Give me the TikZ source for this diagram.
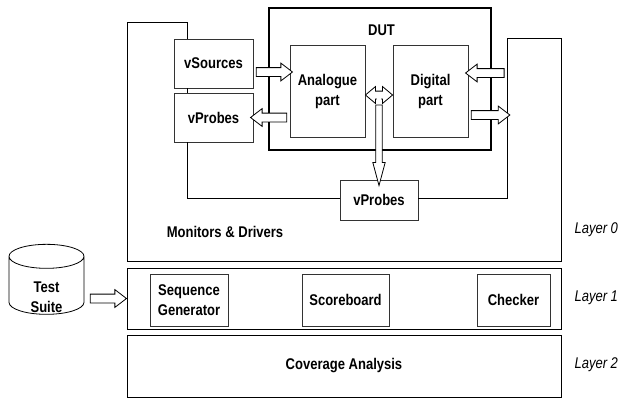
\documentclass[tikz,border=0pt]{standalone}
\usepackage{fontspec}
\setmainfont{Liberation Sans}[FakeStretch=0.84]
\usepackage{tikz}
\usetikzlibrary{arrows.meta,shapes.geometric,shapes.arrows,calc}

% block arrow between two points: \blockarrow[style]{(from)}{(to)}
\newcommand\blockarrow[3][barrow]{%
    \path let \p1=($#3-#2$), \n1={veclen(\x1,\y1)} in
        #2 -- #3 node[midway, sloped, allow upside down, #1, minimum height=\n1] {};
}

\begin{document}
\begin{tikzpicture}[
    x=1pt, y=-1pt,
    font=\fontsize{15.5}{20}\selectfont\bfseries,
    block/.style={
        rectangle,
        draw=black!80,
        line width=0.8pt,
        inner sep=0pt,
        align=center,
        minimum width=#1
    },
    layer/.style={
        rectangle,
        draw=black,
        line width=0.8pt,
        minimum width=434pt
    },
    layer label/.style={
        anchor=west,
        font=\fontsize{15.5}{20}\selectfont\itshape
    },
    barrow/.style={
        single arrow,
        draw,
        fill=white,
        line width=0.8pt,
        inner sep=4pt,
        single arrow head extend=4.5pt,
        single arrow tip angle=75
    },
    barrow thin/.style={
        barrow,
        inner sep=2.8pt,
        single arrow head extend=3pt,
        single arrow tip angle=30
    },
    barrow both/.style={
        double arrow,
        draw,
        fill=white,
        line width=0.8pt,
        inner sep=3.5pt,
        double arrow head extend=4.5pt,
        double arrow tip angle=80
    }
]
\useasboundingbox (0,0) rectangle (618,399);

% DUT with its two parts
\node[block=222pt, draw=black, line width=2.4pt, minimum height=142pt] (dut) at (380,79) {};
\node (dutlbl) at (381.5,30) {DUT};
\node[block=75pt, minimum height=92pt] (ana) at (327.5,91) {Analogue\\part};
\node[block=75pt, minimum height=92pt] (dig) at (430.5,91) {Digital\\part};

% virtual sources and probes
\node[block=79pt, minimum height=49pt] (vsrc)  at (213.5,63.5) {vSources};
\node[block=79pt, minimum height=49pt] (vprb)  at (213.5,117.5) {vProbes};
\node[block=78pt, minimum height=40pt] (vprb2) at (379,200) {vProbes};

% Layer 0 outline
\coordinate (ltop) at (187,22);
\coordinate (rtop) at (507,38);
\coordinate (l0sw) at (127,261);
\coordinate (l0se) at (561,261);
\draw[line width=0.8pt] (l0sw) -- (l0sw |- ltop) -- (ltop) -- (ltop |- vsrc.north);
\draw[line width=0.8pt] (ltop |- vsrc.south) -- (ltop |- vprb.north);
\draw[line width=0.8pt] (ltop |- vprb.south) |- ([yshift=2pt]vprb2.west);
\draw[line width=0.8pt] ([yshift=2pt]vprb2.east) -| (rtop) -| (l0se) -- (l0sw);
\node (mondrv) at (225,232) {Monitors \& Drivers};

% Layer 1 and Layer 2
\node[layer, minimum height=61pt] (layer1) at (344,298.5) {};
\node[layer, minimum height=62pt] (layer2) at (344,366) {Coverage Analysis};
\node[block=78pt, minimum height=52pt] (seqgen)  at (189,300) {Sequence\\Generator};
\node[block=87pt, minimum height=52pt] (score)   at (345.5,300) {Scoreboard};
\node[block=73pt, minimum height=52pt] (checker) at (513.5,300) {Checker};

\node[layer label] (lay0) at (571,230) {Layer 0};
\node[layer label] (lay1) at (571,298) {Layer 1};
\node[layer label] (lay2) at (571,365) {Layer 2};

% Test suite
\node[cylinder, shape border rotate=90, draw, line width=0.8pt, aspect=3.6,
      minimum width=75pt, minimum height=70pt,
      label={[align=center, yshift=-9pt]center:Test\\Suite}] (suite) at (46.5,288) {};

% block arrows
\blockarrow{([yshift=-8.5pt]vsrc.east)}{([yshift=-8.5pt]vsrc.east -| ana.west)}
\blockarrow{(vprb.east -| ana.west)}{(vprb.east)}
\blockarrow[barrow both]{([yshift=-4pt]ana.east)}{([yshift=-4pt]dig.west)}
\coordinate (junc) at ($([yshift=-8pt]ana.east)!0.5!([yshift=-8pt]dig.west)$);
\blockarrow[barrow thin]{(junc)}{(vprb2.north)}
\draw[white, line width=1.2pt] ([xshift=-2.2pt]junc) -- ([xshift=2.2pt]junc);
\blockarrow{([yshift=18pt]dig.east -| rtop)}{([yshift=18pt]dig.east)}
\blockarrow{([yshift=-24pt]dig.east)}{([yshift=-24pt]dig.east -| rtop)}
\blockarrow{([xshift=3pt]suite.east |- layer1.west)}{([xshift=-3pt]layer1.west)}

\end{tikzpicture}
\end{document}
